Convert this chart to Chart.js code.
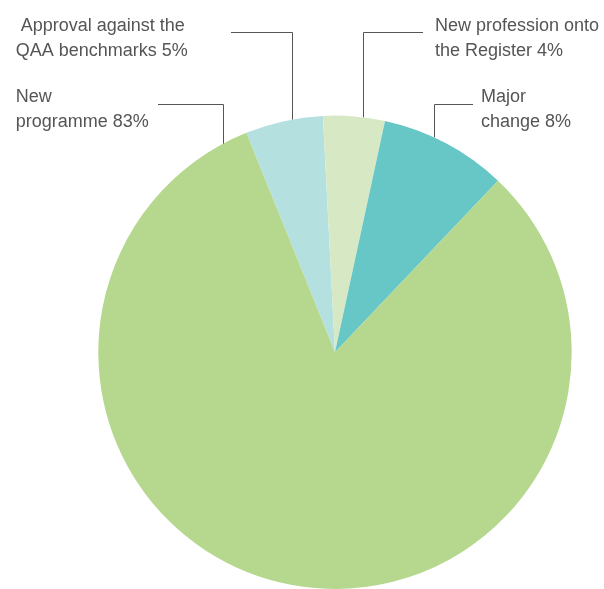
<!DOCTYPE html>
<html>
<head>
<meta charset="utf-8">
<script src="https://cdn.jsdelivr.net/npm/chart.js@4/dist/chart.umd.min.js"></script>
<style>
  html, body { margin: 0; padding: 0; background: #fff; }
  #wrap { width: 604px; height: 589px; position: relative; }
</style>
</head>
<body>
<div id="wrap"><canvas id="pieChart"></canvas></div>
<script>
// slice order runs clockwise, starting just left of twelve o'clock
var categories = ['Approval against the QAA benchmarks', 'New profession onto the Register', 'Major change', 'New programme'];
// shares as drawn in the picture (the printed labels are rounded)
var shares = [5.3, 4.2, 8.7, 81.8];
var labelLines = [
    [' Approval against the', 'QAA benchmarks 5%'],
    ['New profession onto', 'the Register 4%'],
    ['Major', 'change 8%'],
    ['New', 'programme 83%']
];
var sliceColors = ['#b5e0e0', '#d7e9c4', '#67c7c6', '#b5d88e'];

// leader line + label drawn for every arc
var leaderLabels = {
    id: 'leaderLabels',
    afterDatasetsDraw: function(chart, args, opts) {
        var ctx = chart.ctx;
        var meta = chart.getDatasetMeta(0);
        ctx.save();
        meta.data.forEach(function(arc, i) {
            var o = opts.items[i];
            var p = arc.getProps(['x', 'y', 'startAngle', 'endAngle', 'outerRadius'], true);
            var a = p.startAngle + (p.endAngle - p.startAngle) * o.at;
            var px = Math.round(p.x + p.outerRadius * Math.cos(a)) + 0.5;
            var py = p.y + p.outerRadius * Math.sin(a);
            ctx.strokeStyle = opts.lineColor;
            ctx.lineWidth = 1;
            ctx.beginPath();
            ctx.moveTo(o.lineEnd, o.lineY);
            ctx.lineTo(px, o.lineY);
            ctx.lineTo(px, py);
            ctx.stroke();

            ctx.fillStyle = opts.color;
            ctx.font = opts.font;
            ctx.textAlign = 'left';
            ctx.textBaseline = 'alphabetic';
            labelLines[i].forEach(function(t, k) {
                ctx.fillText(t, o.x, o.y + k * opts.lineHeight);
            });
        });
        ctx.restore();
    }
};

new Chart(document.getElementById('pieChart'), {
    type: 'pie',
    data: {
        labels: categories,
        datasets: [{
            data: shares,
            backgroundColor: sliceColors,
            borderWidth: 0,
            hoverOffset: 0,
            offset: 0
        }]
    },
    options: {
        responsive: true,
        maintainAspectRatio: false,
        animation: false,
        rotation: -22,
        layout: {
            padding: { top: 115.6, bottom: 0, left: 98.3, right: 32.3 }
        },
        plugins: {
            legend: { display: false },
            tooltip: { enabled: false },
            leaderLabels: {
                color: '#555',
                lineColor: '#555',
                font: '18px "Liberation Sans", Arial, sans-serif',
                lineHeight: 25,
                items: [
                    { at: 0.6, lineY: 32.5, lineEnd: 231, x: 15.7, y: 30.7 },
                    { at: 0.65, lineY: 32.5, lineEnd: 423, x: 435, y: 31 },
                    { at: 0.4, lineY: 104.5, lineEnd: 473, x: 481, y: 101.5 },
                    { at: 0.979, lineY: 104.5, lineEnd: 158, x: 15.7, y: 101.5 }
                ]
            }
        }
    },
    plugins: [leaderLabels]
});
</script>
</body>
</html>
